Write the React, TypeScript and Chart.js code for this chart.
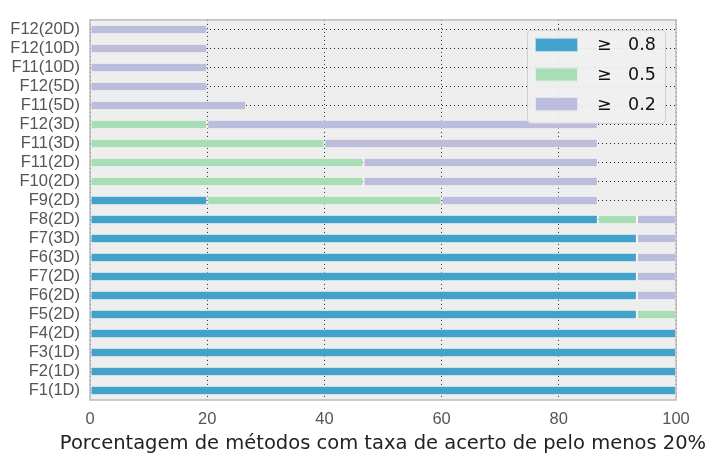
import React, { useEffect, useRef } from "react";
import { Chart, registerables } from "chart.js";

Chart.register(...registerables);

const categories = [
  "F12(20D)", "F12(10D)", "F11(10D)", "F12(5D)", "F11(5D)", "F12(3D)", "F11(3D)",
  "F11(2D)", "F10(2D)", "F9(2D)", "F8(2D)", "F7(3D)", "F6(3D)", "F7(2D)", "F6(2D)",
  "F5(2D)", "F4(2D)", "F3(1D)", "F2(1D)", "F1(1D)",
];

const seriesLabels = ["≥ 0.8", "≥ 0.5", "≥ 0.2"];

const atLeast08 = [0, 0, 0, 0, 0, 0, 0, 0, 0, 20, 86.67, 93.33, 93.33, 93.33, 93.33, 93.33, 100, 100, 100, 100];
const atLeast05 = [0, 0, 0, 0, 0, 20, 40, 46.67, 46.67, 40, 6.67, 0, 0, 0, 0, 6.67, 0, 0, 0, 0];
const atLeast02 = [20, 20, 20, 20, 26.67, 66.67, 46.67, 40, 40, 26.67, 6.67, 6.67, 6.67, 6.67, 6.67, 0, 0, 0, 0, 0];

const xTicks = [0, 20, 40, 60, 80, 100];
const xTitle = "Porcentagem de métodos com taxa de acerto de pelo menos 20%";

const colors = ["#43a2ca", "#a8ddb5", "#bcbddc"];

const bgPlugin = {
  id: "bgFrame",
  beforeDraw(chart: any) {
    const { ctx, chartArea: a } = chart;
    ctx.save();
    ctx.fillStyle = "#eeeeee";
    ctx.fillRect(a.left, a.top, a.right - a.left, a.bottom - a.top);
    ctx.restore();
  },
  afterDatasetsDraw(chart: any) {
    const { ctx, chartArea: a } = chart;
    ctx.save();
    ctx.strokeStyle = "#bcbcbc";
    ctx.lineWidth = 1.5;
    ctx.strokeRect(a.left, a.top, a.right - a.left, a.bottom - a.top);
    ctx.restore();
  },
  afterDraw(chart: any) {
    const { ctx, chartArea: a } = chart;
    const ds = chart.data.datasets;
    // axis title (drawn without width compression)
    ctx.save();
    ctx.fillStyle = "#222222";
    ctx.font = "19.5px 'DejaVu Sans'";
    ctx.textAlign = "center";
    ctx.textBaseline = "alphabetic";
    ctx.fillText(xTitle, (a.left + a.right) / 2, a.bottom + 49);
    ctx.restore();
    // legend
    const boxR = a.right - 11;
    const boxL = boxR - 138;
    const boxT = a.top + 10;
    const boxH = 93;
    ctx.save();
    ctx.beginPath();
    if (ctx.roundRect) ctx.roundRect(boxL + 0.5, boxT + 0.5, boxR - boxL, boxH, 4);
    else ctx.rect(boxL + 0.5, boxT + 0.5, boxR - boxL, boxH);
    ctx.fillStyle = "rgba(240,240,240,0.9)";
    ctx.fill();
    ctx.strokeStyle = "#cfcfcf";
    ctx.lineWidth = 1;
    ctx.stroke();
    ds.forEach((d: any, i: number) => {
      const cy = boxT + 15 + i * 29.6;
      ctx.fillStyle = d.backgroundColor;
      ctx.fillRect(boxL + 8, cy - 7, 43, 14);
      ctx.strokeStyle = "rgba(255,255,255,0.6)";
      ctx.strokeRect(boxL + 8.5, cy - 6.5, 42, 13);
      const [sym, val] = String(d.label).split(" ");
      ctx.fillStyle = "#111111";
      ctx.textBaseline = "middle";
      ctx.textAlign = "left";
      ctx.font = "17.5px 'DejaVu Sans'";
      ctx.fillText(sym, boxL + 70, cy + 1);
      ctx.fillText(val, boxL + 101, cy + 1);
    });
    ctx.restore();
  },
};

export default function App() {
  const ref = useRef<HTMLCanvasElement | null>(null);
  useEffect(() => {
    if (!ref.current) return;
    const data = [atLeast08, atLeast05, atLeast02];
    const chart = new Chart(ref.current, {
      type: "bar",
      data: {
        labels: categories,
        datasets: data.map((vals, i) => ({
          label: seriesLabels[i],
          data: vals,
          backgroundColor: colors[i],
          borderColor: "rgba(255,255,255,0.6)",
          borderWidth: 1,
          borderSkipped: false,
          barPercentage: 0.5,
          categoryPercentage: 1,
        })),
      },
      options: {
        indexAxis: "y",
        animation: false,
        responsive: false,
        maintainAspectRatio: false,
        devicePixelRatio: 1,
        layout: { padding: { left: 0, right: 32, top: 11, bottom: 0 } },
        plugins: {
          legend: { display: false },
          tooltip: { enabled: false },
        },
        scales: {
          x: {
            type: "linear",
            stacked: true,
            min: 0,
            max: 100,
            afterBuildTicks: (scale: any) => {
              scale.ticks = xTicks.map((v) => ({ value: v }));
            },
            afterFit: (scale: any) => {
              scale.height = 53;
            },
            border: { display: false, dash: [1, 3] },
            grid: {
              color: "rgba(0,0,0,0.85)",
              lineWidth: 1,
              drawTicks: false,
            },
            ticks: {
              padding: 10,
              color: "#555555",
              font: { family: "'Liberation Sans', Arial, sans-serif", size: 16.5 },
            },
          },
          y: {
            type: "category",
            stacked: true,
            afterFit: (scale: any) => {
              scale.width = 90;
            },
            border: { display: false, dash: [1, 3] },
            grid: {
              offset: false,
              color: "rgba(0,0,0,0.85)",
              lineWidth: 1,
              drawTicks: false,
            },
            ticks: {
              autoSkip: false,
              padding: 10,
              color: "#555555",
              font: { family: "'Liberation Sans', Arial, sans-serif", size: 16.5 },
            },
          },
        },
      } as any,
      plugins: [bgPlugin],
    });
    return () => chart.destroy();
  }, []);
  return (
    <div style={{ position: "absolute", left: 0, top: 0, width: 708, height: 453, background: "#fff" }}>
      <canvas ref={ref} width={708} height={453} />
    </div>
  );
}
